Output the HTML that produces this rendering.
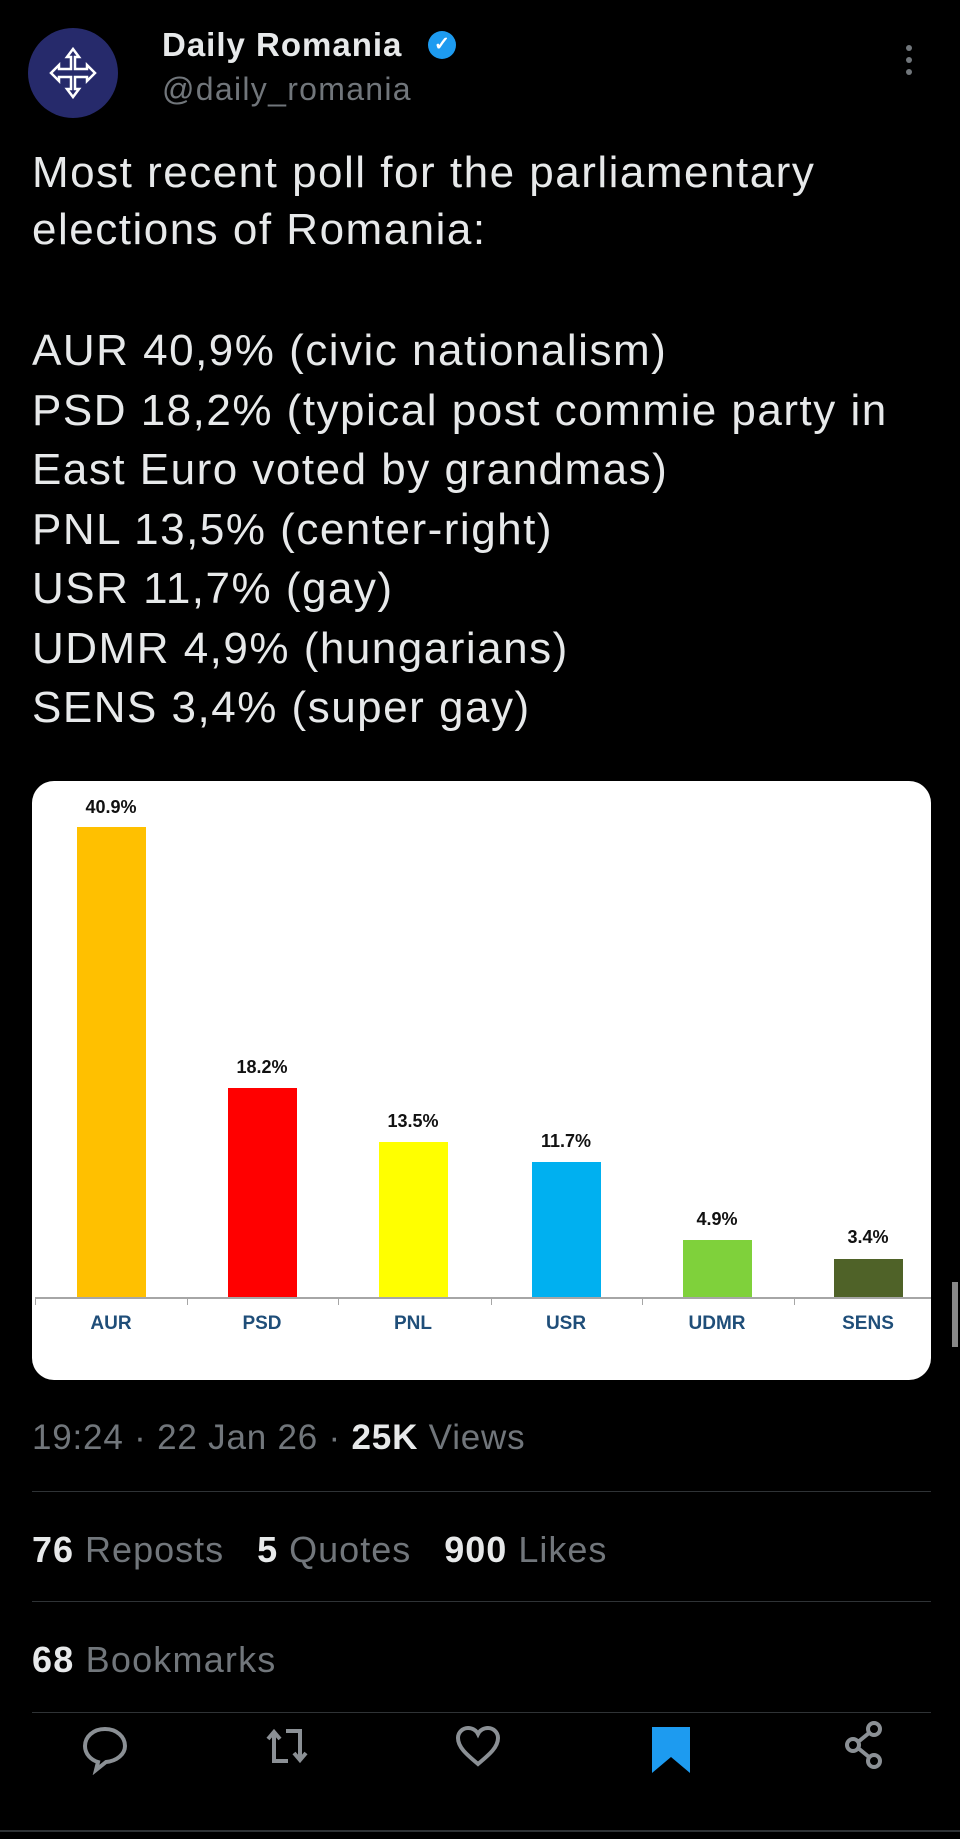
<!DOCTYPE html>
<html><head><meta charset="utf-8"><style>
body{margin:0;background:#000;width:960px;height:1839px;position:relative;overflow:hidden;font-family:"Liberation Sans",sans-serif;color:#e7e9ea}
.a{position:absolute;white-space:nowrap}
.t{font-size:44px;letter-spacing:1.5px;left:32px;line-height:1}
.hr{position:absolute;left:32px;width:899px;height:1px;background:#2f3336}
.g{color:#71767b}
.b{font-weight:bold;color:#e7e9ea}
.v{position:absolute;font:bold 18px "Liberation Sans Narrow","Liberation Sans",sans-serif;color:#111;text-align:center;width:100px}
.c{position:absolute;font:bold 19px "Liberation Sans Narrow","Liberation Sans",sans-serif;color:#1f4e79;text-align:center;width:100px;top:1313px}
.bar{position:absolute;width:69px;bottom:541px}
</style></head><body>
<div class="a" style="left:28px;top:28px;width:90px;height:90px;border-radius:50%;background:#262a6b"></div>
<svg class="a" style="left:43px;top:43px" width="60" height="60" viewBox="0 0 60 60" fill="none" stroke="#fff" stroke-width="2.5"><path d="M30 6l-6 8h4v12h-12v-4l-8 8 8 8v-4h12v12h-4l6 8 6-8h-4v-12h12v4l8-8-8-8v4h-12v-12h4z"/></svg>
<div class="a" style="left:162px;top:26px;font-size:33px;letter-spacing:1px;font-weight:bold">Daily Romania</div>
<div class="a" style="left:428px;top:31px;width:28px;height:28px;border-radius:50%;background:#1d9bf0;color:#fff;font-size:19px;text-align:center;line-height:28px;font-weight:bold">✓</div>
<div class="a g" style="left:162px;top:71px;font-size:32px;letter-spacing:1.3px">@daily_romania</div>
<div class="a" style="left:906px;top:45px;width:6px">
<div style="width:6px;height:6px;border-radius:50%;background:#71767b;margin-bottom:6px"></div><div style="width:6px;height:6px;border-radius:50%;background:#71767b;margin-bottom:6px"></div><div style="width:6px;height:6px;border-radius:50%;background:#71767b"></div></div>
<div class="a t" style="top:151px">Most recent poll for the parliamentary</div>
<div class="a t" style="top:208px">elections of Romania:</div>
<div class="a t" style="top:329px">AUR 40,9% (civic nationalism)</div>
<div class="a t" style="top:389px">PSD 18,2% (typical post commie party in</div>
<div class="a t" style="top:448px">East Euro voted by grandmas)</div>
<div class="a t" style="top:508px">PNL 13,5% (center-right)</div>
<div class="a t" style="top:567px">USR 11,7% (gay)</div>
<div class="a t" style="top:627px">UDMR 4,9% (hungarians)</div>
<div class="a t" style="top:686px">SENS 3,4% (super gay)</div>

<div class="a" style="left:32px;top:781px;width:899px;height:599px;background:#fff;border-radius:22px"></div>
<div class="bar" style="left:77px;top:827px;background:#ffc000"></div>
<div class="bar" style="left:228px;top:1088px;background:#ff0000"></div>
<div class="bar" style="left:379px;top:1142px;background:#ffff00"></div>
<div class="bar" style="left:532px;top:1162px;background:#00b0f0"></div>
<div class="bar" style="left:683px;top:1240px;background:#7fd13b"></div>
<div class="bar" style="left:834px;top:1259px;background:#4f6228"></div>
<div class="a" style="left:35px;top:1297px;width:896px;height:2px;background:#a6a6a6"></div>
<div class="a" style="left:35px;top:1297px;width:1px;height:8px;background:#a6a6a6"></div>
<div class="a" style="left:187px;top:1297px;width:1px;height:8px;background:#a6a6a6"></div>
<div class="a" style="left:338px;top:1297px;width:1px;height:8px;background:#a6a6a6"></div>
<div class="a" style="left:491px;top:1297px;width:1px;height:8px;background:#a6a6a6"></div>
<div class="a" style="left:642px;top:1297px;width:1px;height:8px;background:#a6a6a6"></div>
<div class="a" style="left:794px;top:1297px;width:1px;height:8px;background:#a6a6a6"></div>
<div class="v" style="left:61px;top:797px">40.9%</div>
<div class="v" style="left:212px;top:1057px">18.2%</div>
<div class="v" style="left:363px;top:1111px">13.5%</div>
<div class="v" style="left:516px;top:1131px">11.7%</div>
<div class="v" style="left:667px;top:1209px">4.9%</div>
<div class="v" style="left:818px;top:1227px">3.4%</div>
<div class="c" style="left:61px">AUR</div>
<div class="c" style="left:212px">PSD</div>
<div class="c" style="left:363px">PNL</div>
<div class="c" style="left:516px">USR</div>
<div class="c" style="left:667px">UDMR</div>
<div class="c" style="left:818px">SENS</div>
<div class="a" style="left:952px;top:1282px;width:6px;height:65px;background:#888"></div>

<div class="a g" style="left:32px;top:1418px;font-size:35px;letter-spacing:0.8px">19:24 · 22 Jan 26 · <span class="b">25K</span> Views</div>
<div class="hr" style="top:1491px"></div>
<div class="a g" style="left:32px;top:1529px;font-size:36px;letter-spacing:1px"><span class="b">76</span> Reposts &nbsp;&nbsp;<span class="b">5</span> Quotes &nbsp;&nbsp;<span class="b">900</span> Likes</div>
<div class="hr" style="top:1601px"></div>
<div class="a g" style="left:32px;top:1639px;font-size:36px;letter-spacing:1.2px"><span class="b">68</span> Bookmarks</div>
<div class="hr" style="top:1712px"></div>
<svg class="a" style="left:0;top:1715px" width="960" height="60" fill="none" stroke="#8b9095" stroke-width="4">
<path d="M105 14c-12 0-20 8-20 17 0 8 6 14 13 16l-2 8 10-8c11-1 19-8 19-16 0-9-8-17-20-17z"/>
<path d="M274 18v28h14M268 24l6-7 6 7M300 44v-28h-14M294 38l6 7 6-7"/>
<path d="M478 49c-12-10-20-17-20-26 0-6 5-10 10-10 4 0 8 2 10 6 2-4 6-6 10-6 5 0 10 4 10 10 0 9-8 16-20 26z"/>
<path d="M652 12h38v46l-19-16-19 16z" fill="#1d9bf0" stroke="none"/>
<circle cx="874" cy="14" r="6"/><circle cx="853" cy="30" r="6"/><circle cx="874" cy="46" r="6"/><path d="M858 27l11-9M858 33l11 9"/>
</svg>
<div class="a" style="left:0;top:1830px;width:960px;height:2px;background:#2f3336"></div>
</body></html>
